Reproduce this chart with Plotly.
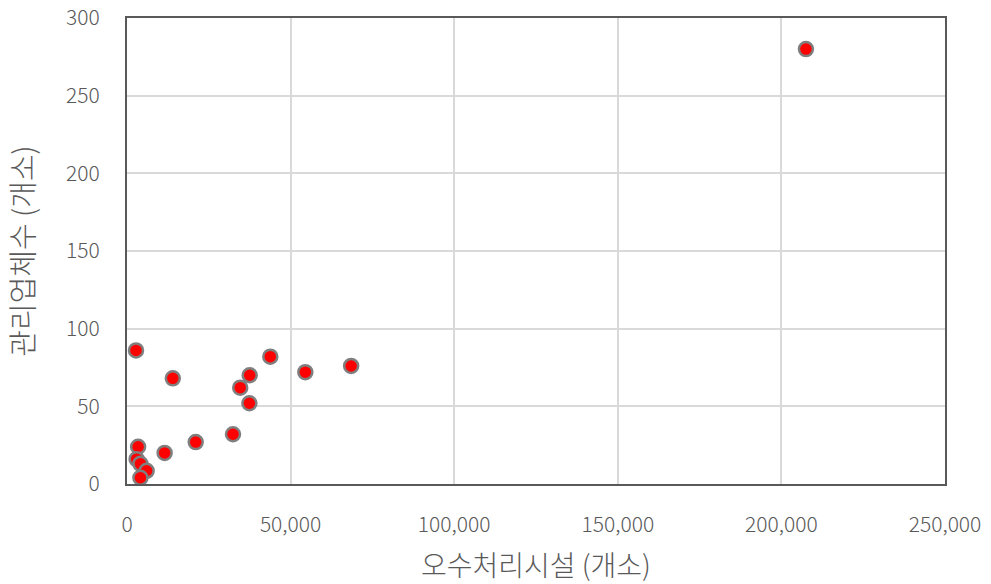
import plotly.graph_objects as go

facilities = [2750, 14000, 43800, 37500, 34600, 37400, 32400, 21000, 11500, 3400, 2950, 4100, 6000, 4100, 54500, 68500, 207500]
companies = [86, 68, 82, 70, 62, 52, 32, 27, 20, 24, 16, 13, 8.5, 4, 72, 76, 280]

x_title = "오수처리시설 (개소)"
y_title = "관리업체수 (개소)"

font_family = "Noto Sans CJK KR"
gray = "#595959"

fig = go.Figure(go.Scatter(
    x=facilities, y=companies, mode="markers",
    marker=dict(color="#ff0000", size=14, line=dict(color="#7f7f7f", width=2.5)),
    showlegend=False, cliponaxis=False,
))

fig.update_layout(
    width=991, height=584,
    margin=dict(l=127, r=46, t=18, b=100),
    paper_bgcolor="white", plot_bgcolor="white",
    font=dict(family=font_family, color=gray, size=21, weight=300),
    xaxis=dict(
        range=[0, 250000], dtick=50000, tickformat=",",
        showgrid=True, gridcolor="#d9d9d9", gridwidth=2,
        showline=True, linecolor=gray, linewidth=2, mirror=True,
        zeroline=False, ticks="", ticklabelstandoff=21, automargin=False,
        ticklabeloverflow="allow",
        title=dict(text=x_title, font=dict(size=28, color=gray, weight=300), standoff=32),
        tickfont=dict(size=21, color=gray, weight=300),
    ),
    yaxis=dict(
        range=[0, 300], dtick=50,
        showgrid=True, gridcolor="#d9d9d9", gridwidth=2,
        showline=True, linecolor=gray, linewidth=2, mirror=True,
        zeroline=False, ticks="", ticklabelstandoff=21, automargin=False,
        ticklabeloverflow="allow",
        title=dict(text=y_title, font=dict(size=29, color=gray, weight=300), standoff=24),
        tickfont=dict(size=21, color=gray, weight=300),
    ),
)

fig.write_html(
    "out.html",
    config={"displayModeBar": False},
    post_script="document.body.style.margin='0';document.body.style.overflow='hidden';",
)
